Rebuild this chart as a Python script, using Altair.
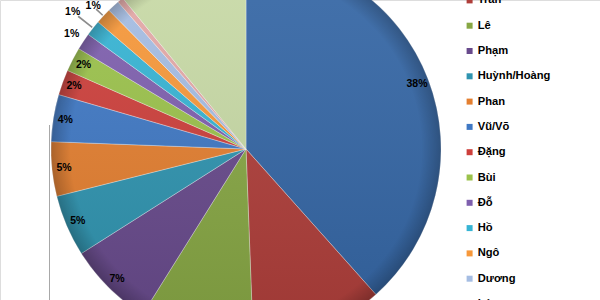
import altair as alt
import pandas as pd

names = ["Nguyễn", "Trần", "Lê", "Phạm", "Huỳnh/Hoàng", "Phan", "Vũ/Võ", "Đặng",
         "Bùi", "Đỗ", "Hồ", "Ngô", "Dương", "Lý", "Khác"]
values = [38.4, 11.0, 9.5, 7.1, 5.1, 4.5, 3.9, 2.1, 2.0, 1.4, 1.3, 1.3, 1.0, 0.5, 10.9]
colors = ["#3466A5", "#AF3E3A", "#87A744", "#684A8C", "#2F94B0", "#E47F30",
          "#3F78C4", "#CD3F3B", "#9BC24B", "#7E5FAE", "#36B4D4", "#F7983A",
          "#A5BDE3", "#E4A8A7", "#C8DAA6"]

df = pd.DataFrame({"name": names, "value": values, "i": list(range(len(names)))})

CX, CY, R = 246, 149, 195

base = alt.Chart(df).transform_calculate(
    label="round(datum.value) + '%'"
)

border = alt.Chart(pd.DataFrame({"k": [0]})).mark_rule(color="#A8A8A8", strokeWidth=1).encode(
    x=alt.value(49.5), y=alt.value(125), y2=alt.value(300)
)

pie = base.mark_arc(radius=R, stroke="white", strokeWidth=0.6, strokeOpacity=0.55).encode(
    theta=alt.Theta("value:Q", stack=True),
    order=alt.Order("i:Q", sort="ascending"),
    color=alt.Color(
        "name:N",
        scale=alt.Scale(domain=names, range=colors),
        legend=alt.Legend(
            orient="none", legendX=464, legendY=-30.5, title=None,
            symbolType="square", symbolSize=36, symbolStrokeWidth=0,
            labelFont="Liberation Sans", labelFontSize=11.2, labelFontWeight="bold",
            labelColor="black", rowPadding=13.3, labelOffset=2.5, padding=0,
            labelLimit=200,
        ),
    ),
    x=alt.value(CX), y=alt.value(CY),
)

one = pd.DataFrame({"k": [0]})
rim = alt.Chart(one).mark_arc(
    radius=R, theta=0, theta2=6.2831853,
    color={"gradient": "radial", "x1": 0.5, "y1": 0.5, "x2": 0.5, "y2": 0.5, "r1": 0, "r2": 0.5,
           "stops": [{"offset": 0, "color": "rgba(0,0,0,0)"},
                     {"offset": 0.9, "color": "rgba(0,0,0,0)"},
                     {"offset": 1, "color": "rgba(0,0,0,0.22)"}]},
).encode(x=alt.value(CX), y=alt.value(CY))

shade = alt.Chart(one).mark_arc(
    radius=R, theta=0, theta2=6.2831853,
    color={"gradient": "linear", "x1": 0, "y1": 0, "x2": 0, "y2": 1,
           "stops": [{"offset": 0, "color": "rgba(255,255,255,0.08)"},
                     {"offset": 1, "color": "rgba(0,0,0,0.10)"}]},
).encode(x=alt.value(CX), y=alt.value(CY))

mids = alt.Chart(df).transform_window(
    cum="sum(value)", sort=[alt.SortField("i")], frame=[None, 0]
).transform_joinaggregate(total="sum(value)").transform_calculate(
    mid="(datum.cum - datum.value / 2) / datum.total * 2 * PI",
    a1="datum.mid - 0.004",
    a2="datum.mid + 0.004",
)

lead_ho = mids.transform_filter(alt.datum.name == "Hồ").mark_arc(
    radius=196, radius2=214, color="#8C8C8C"
).encode(theta=alt.Theta("a1:Q", scale=None), theta2="a2:Q", x=alt.value(CX), y=alt.value(CY))

lead_ngo = mids.transform_filter(alt.datum.name == "Ngô").mark_arc(
    radius=196, radius2=205, color="#8C8C8C"
).encode(theta=alt.Theta("a1:Q", scale=None), theta2="a2:Q", x=alt.value(CX), y=alt.value(CY))

txt_style = dict(font="Liberation Sans", fontSize=10.5, fontWeight="bold", color="black",
                 align="center", baseline="middle")


def labels(sel, r):
    return base.transform_calculate(
        show=alt.expr.indexof(sel, alt.datum.name) >= 0
    ).mark_text(radius=r, **txt_style).encode(
        theta=alt.Theta("value:Q", stack=True),
        order=alt.Order("i:Q", sort="ascending"),
        text=alt.condition("datum.show", alt.Text("label:N"), alt.value("")),
        x=alt.value(CX), y=alt.value(CY),
    )


small = ["Đỗ", "Hồ", "Ngô", "Dương", "Lý"]
inner = labels([n for n in names if n not in small], 183)
outer1 = labels(["Đỗ", "Ngô"], 209)
outer2 = labels(["Hồ"], 221)

chart = alt.layer(border, pie, shade, rim, lead_ho, lead_ngo, inner, outer1, outer2).properties(
    width=600, height=300, autosize=alt.AutoSizeParams(type="none"), padding=0
).configure_view(stroke=None).configure(background="white")

chart.save("out.html", embed_options={"renderer": "svg", "actions": False})
